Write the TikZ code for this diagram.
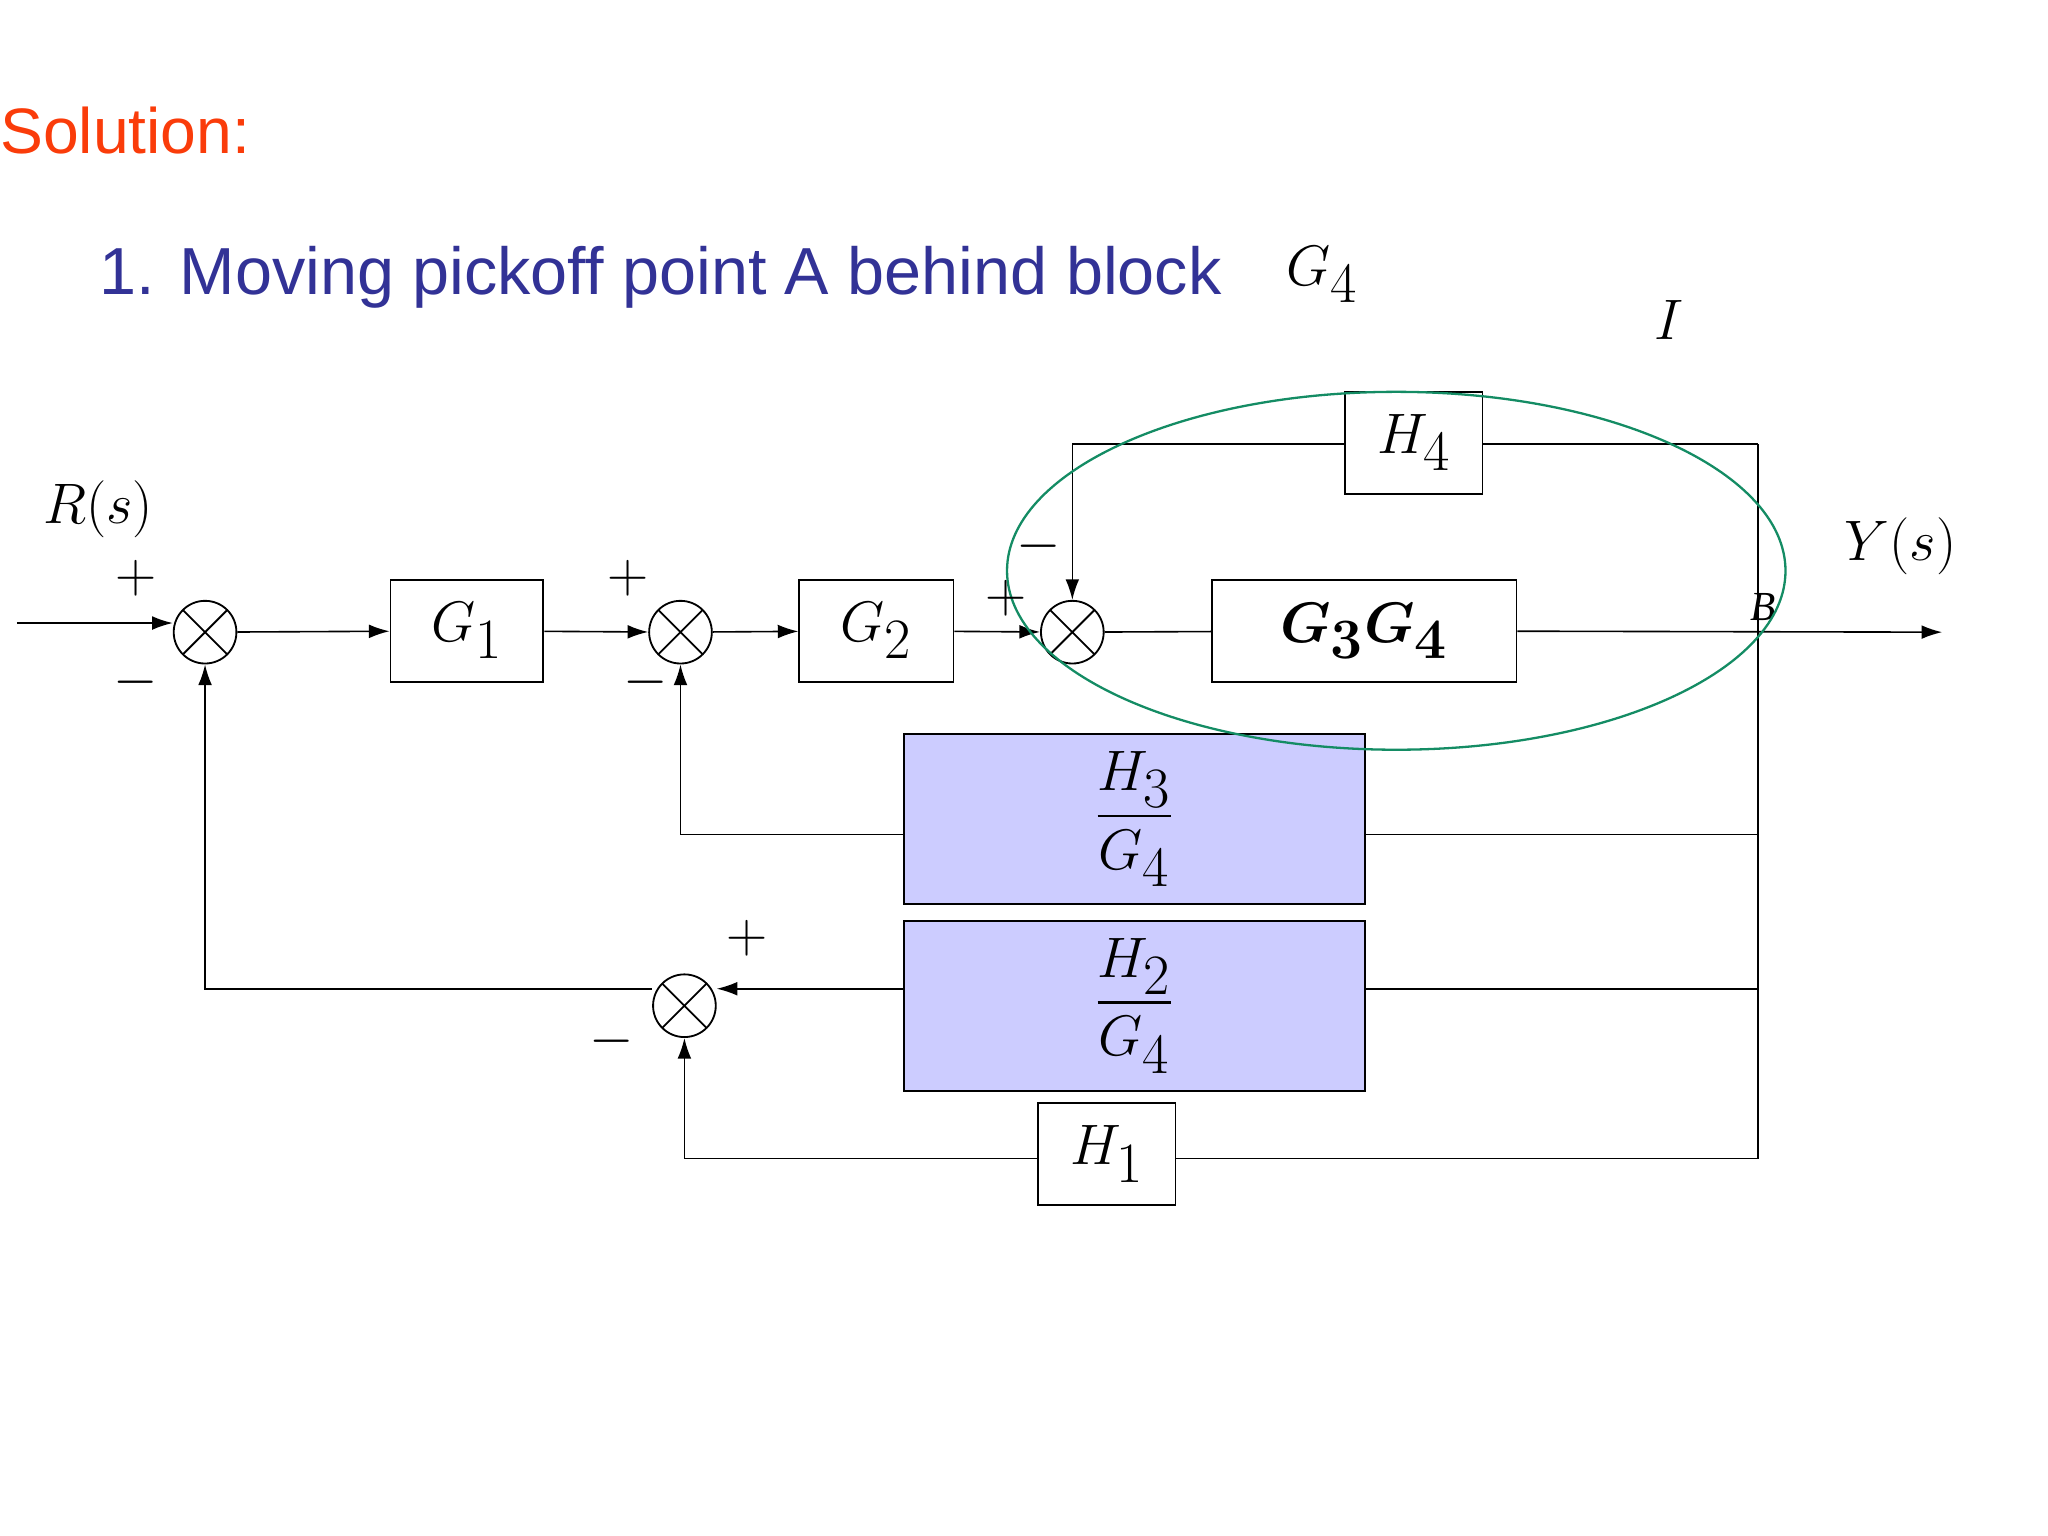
\documentclass[tikz,border=0pt]{standalone}
\usepackage{amsmath}
\usepackage{fontspec}
\setmainfont{Liberation Serif}
\newfontfamily\sans{Liberation Sans}
\usetikzlibrary{arrows.meta}
\definecolor{lav}{RGB}{204,204,255}
\definecolor{ell}{RGB}{20,140,100}
\definecolor{ttl}{RGB}{50,50,150}
\definecolor{sol}{RGB}{250,60,10}
\begin{document}
\begin{tikzpicture}[x=0.02cm,y=-0.02cm,
  blk/.style={draw,line width=0.8pt,minimum width=#1*0.02cm,minimum height=78*0.02cm,inner sep=0pt,font=\fontsize{34}{34}\selectfont},
  sum/.style={draw,circle,line width=0.8pt,minimum size=48*0.02cm,inner sep=0pt,path picture={\draw (path picture bounding box.south west)--(path picture bounding box.north east) (path picture bounding box.north west)--(path picture bounding box.south east);}},
  ln/.style={line width=0.7pt},
  ar/.style={ln,-{Latex[length=9pt,width=6pt]}},
  sg/.style={font=\fontsize{24}{24}\selectfont}]
\useasboundingbox (0,0) rectangle (1568,1176);
\node[anchor=west,text=sol,font=\sans\fontsize{28}{30}\selectfont] (sol) at (-6,100) {Solution:};
\node[anchor=west,text=ttl,font=\sans\fontsize{29}{30}\selectfont] (ttl) at (70,212) {1. Moving pickoff point A behind block};
\node[font=\fontsize{34}{34}\selectfont] (tg) at (1012,210) {$G_4$};
\node[font=\fontsize{36}{36}\selectfont] (I) at (1278,245) {$I$};
\node[font=\fontsize{34}{34}\selectfont] (R) at (75,390) {$R(s)$};
\node[font=\fontsize{34}{34}\selectfont] (Y) at (1455,418) {$Y(s)$};
\node[sum] (s1) at (157,484) {};
\node[sum] (s2) at (521,484) {};
\node[sum] (s3) at (821,484) {};
\node[sum] (s4) at (524,770) {};
\node[blk=117] (g1) at (357.5,483) {$G_1$};
\node[blk=118] (g2) at (671,483) {$G_2$};
\node[blk=233,font=\fontsize{48}{48}\selectfont] (g34) at (1044.5,483) {$\boldsymbol{G_3G_4}$};
\node[blk=105] (h4) at (1082.5,339) {$H_4$};
\node[blk=105] (h1) at (847.5,883.5) {$H_1$};
\node[blk=353,minimum height=130*0.02cm,fill=lav] (h3) at (868.5,627) {$\dfrac{H_3}{G_4}$};
\node[blk=353,minimum height=130*0.02cm,fill=lav] (h2) at (868.5,770) {$\dfrac{H_2}{G_4}$};
\coordinate (in) at (13,477);
\coordinate (out) at (1487,484);
\coordinate (c340) at (1346,340);
\coordinate (c639) at (1346,639);
\coordinate (c757) at (1346,757);
\coordinate (c887) at (1346,887);
\node[font=\itshape\fontsize{18}{18}\selectfont] (B) at (1350,465) {B};
\draw[ar] (in) -- (in -| s1.west);
\draw[ar] (s1) -- (g1);
\draw[ar] (g1) -- (s2);
\draw[ar] (s2) -- (g2);
\draw[ar] (g2) -- (s3);
\draw[ln] (s3) -- (g34);
\draw[ar] (g34) -- (out);
\draw[ln] (c340) -- (c887);
\draw[ln] (c340) -- (h4.east |- c340);
\draw[ar] (h4.west |- c340) -| (s3.north);
\draw[ln] (c639) -- (h3.east |- c639);
\draw[ar] (h3.west |- c639) -| (s2.south);
\draw[ln] (c757) -- (h2.east |- c757);
\draw[ar] (h2.west |- c757) -- (s4.east |- c757);
\draw[ar] (s4.west |- c757) -- (157,757) -- (s1.south);
\draw[ln] (c887) -- (h1.east |- c887);
\draw[ar] (h1.west |- c887) -| (s4.south);
\draw[ell,line width=1pt] (1069,437) ellipse [x radius=298,y radius=137];
\node[sg] at (104,443) {$+$};
\node[sg] at (104,522) {$-$};
\node[sg] at (481,443) {$+$};
\node[sg] at (494,522) {$-$};
\node[sg] at (770,458) {$+$};
\node[sg] at (795,418) {$-$};
\node[sg] at (572,718) {$+$};
\node[sg] at (468,797) {$-$};
\end{tikzpicture}
\end{document}
